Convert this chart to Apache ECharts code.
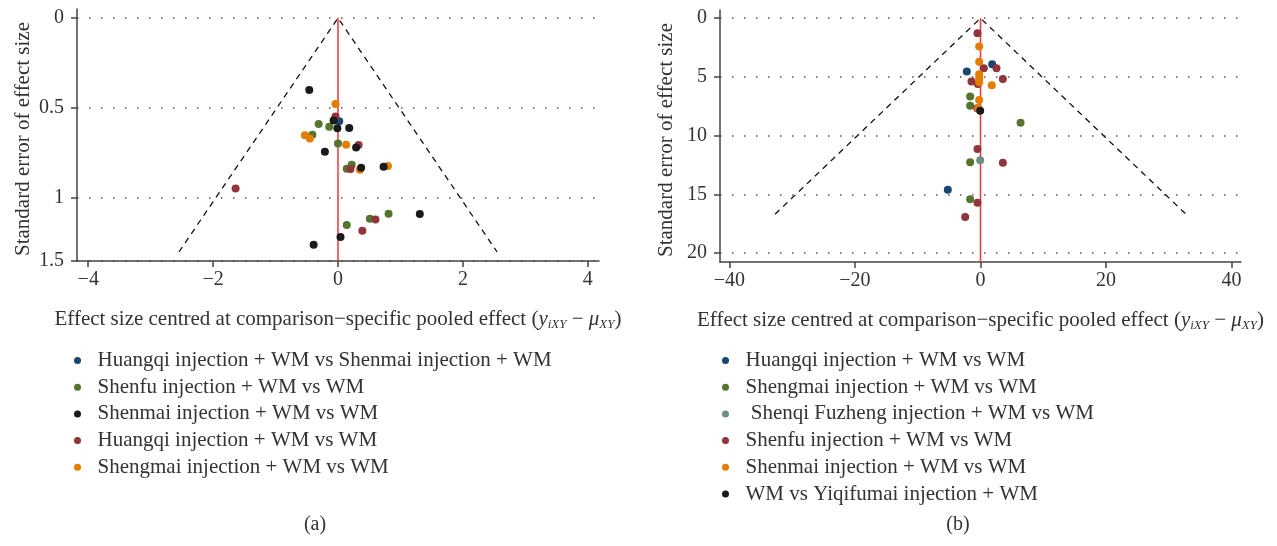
<!DOCTYPE html>
<html><head><meta charset="utf-8">
<script src="https://cdn.jsdelivr.net/npm/echarts@6/dist/echarts.min.js"></script>
<style>html,body{margin:0;padding:0;background:#fff}#c{width:1277px;height:546px}</style>
</head><body><div id="c"></div>
<script>
// ---------- tick labels ----------
const xTicksA = [-4, -2, 0, 2, 4];
const yTicksA = [0, 0.5, 1, 1.35];
const yTickLabelsA = ['0', '0.5', '1', '1.5'];
const xTicksB = [-40, -20, 0, 20, 40];
const yTicksB = [0, 5, 10, 15, 20];

// ---------- series names ----------
const namesA = [
  'Huangqi injection + WM vs Shenmai injection + WM',
  'Shenfu injection + WM vs WM',
  'Shenmai injection + WM vs WM',
  'Huangqi injection + WM vs WM',
  'Shengmai injection + WM vs WM'
];
const namesB = [
  'Huangqi injection + WM vs WM ',
  'Shengmai injection + WM vs WM ',
  ' Shenqi Fuzheng injection + WM vs WM',
  'Shenfu injection + WM vs WM ',
  'Shenmai injection + WM vs WM ',
  'WM vs Yiqifumai injection + WM'
];

// ---------- panel (a) values: [centred effect, standard error] ----------
const aHuangqiVsShenmai = [[0.02, 0.574]];
const aShenfu = [[-0.31, 0.589], [-0.14, 0.604], [-0.41, 0.648], [0.0, 0.697], [0.14, 0.837], [0.22, 0.815], [0.51, 1.115], [0.81, 1.087], [0.14, 1.15]];
const aShenmai = [[-0.46, 0.40], [-0.07, 0.57], [-0.01, 0.613], [0.18, 0.611], [0.29, 0.719], [-0.21, 0.743], [0.37, 0.832], [0.73, 0.826], [1.31, 1.089], [0.04, 1.217], [-0.39, 1.26]];
const aHuangqi = [[-0.04, 0.547], [0.33, 0.706], [-1.64, 0.947], [0.20, 0.839], [0.60, 1.119], [0.39, 1.182]];
const aShengmai = [[-0.04, 0.478], [-0.53, 0.652], [-0.45, 0.669], [0.13, 0.704], [0.35, 0.843], [0.80, 0.822]];
const seMaxA = 1.3;

// ---------- panel (b) values ----------
const bHuangqi = [[-2.18, 4.55], [1.86, 3.93], [-5.21, 14.61]];
const bShengmai = [[-1.65, 6.68], [-1.65, 7.45], [6.38, 8.90], [-1.65, 12.28], [-1.65, 15.43]];
const bShenqiFuzheng = [[-0.05, 12.11]];
const bShenfu = [[-0.48, 1.28], [0.53, 4.26], [2.55, 4.26], [3.56, 5.17], [-1.44, 5.40], [-0.43, 5.60], [-0.53, 7.67], [-0.48, 11.14], [3.56, 12.31], [-0.48, 15.72], [-2.44, 16.94]];
const bShenmai = [[-0.21, 2.42], [-0.21, 3.70], [-0.21, 4.77], [-0.21, 5.12], [-0.21, 5.46], [1.80, 5.71], [-0.21, 6.97], [-0.37, 7.67]];
const bYiqifumai = [[-0.05, 7.88]];
const seMaxB = 16.7;

// ---------- styling ----------
const FONT = '"Liberation Serif", "DejaVu Serif", serif';
const C = { navy: '#1a476f', green: '#55752f', black: '#1a1a1a', maroon: '#90353b', orange: '#e37e00', teal: '#6e8e84' };
const AXC = '#444';
const fmtNum = v => (v < 0 ? '\u2212' + Math.abs(v) : String(v));

function funnel(se) { return [[-1.96 * se, se], [0, 0], [1.96 * se, se]]; }

const xName = 'Effect size centred at comparison\u2212specific pooled effect ({it|y}{sub|iXY} \u2212 {it|\u03bc}{sub|XY})';
const xNameStyle = {
  fontFamily: FONT, fontSize: 21, color: '#333',
  rich: {
    it: { fontFamily: FONT, fontSize: 21, fontStyle: 'italic', color: '#333' },
    sub: { fontFamily: FONT, fontSize: 13, fontStyle: 'italic', color: '#333', padding: [11, 0, 0, 0] }
  }
};

function xAxisCfg(grid, min, max, ticks) {
  return {
    type: 'value', gridIndex: grid, min: min, max: max,
    axisLine: { show: true, onZero: false, lineStyle: { color: AXC, width: 1.5 } },
    axisTick: { show: true, length: 6, customValues: ticks, lineStyle: { color: AXC, width: 1.5 } },
    axisLabel: { customValues: ticks, formatter: fmtNum, fontFamily: FONT, fontSize: 20, color: '#333', margin: 9 },
    splitLine: { show: false },
    name: xName, nameLocation: 'middle', nameGap: 46, nameTextStyle: xNameStyle
  };
}
function yAxisCfg(grid, min, max, ticks, fmt) {
  return {
    type: 'value', gridIndex: grid, inverse: true, min: min, max: max,
    axisLine: { show: true, onZero: false, lineStyle: { color: AXC, width: 1.5 } },
    axisTick: { show: true, length: 6, customValues: ticks, lineStyle: { color: AXC, width: 1.5 } },
    axisLabel: { customValues: ticks, formatter: fmt, fontFamily: FONT, fontSize: 20, color: '#333', margin: 13 },
    splitLine: { show: true, lineStyle: { type: [1.5, 10.5], color: '#555', width: 1.5 } },
    name: 'Standard error of effect size', nameLocation: 'middle', nameGap: 43, nameRotate: 90,
    nameTextStyle: { fontFamily: FONT, fontSize: 21, color: '#333', padding: [0, 8, 0, 0] }
  };
}

function scatter(name, data, color, ax) {
  return { type: 'scatter', name: name, data: data, xAxisIndex: ax, yAxisIndex: ax,
    symbol: 'circle', symbolSize: 8, itemStyle: { color: color, opacity: 1 }, z: 3 };
}
function lineS(data, ax, style) {
  return { type: 'line', data: data, xAxisIndex: ax, yAxisIndex: ax, symbol: 'none', silent: true,
    lineStyle: style, z: 2, animation: false };
}

const legendBase = {
  orient: 'vertical', icon: 'circle', itemWidth: 30, itemHeight: 7, itemGap: 5.7,
  selectedMode: false, top: 345,
  textStyle: { fontFamily: FONT, fontSize: 21, color: '#333', lineHeight: 20, padding: [0, 0, 0, 0] }
};

const option = {
  animation: false,
  backgroundColor: '#fff',
  grid: [
    { left: 77, top: 9, width: 522, height: 252 },
    { left: 720, top: 10, width: 521, height: 252 }
  ],
  xAxis: [xAxisCfg(0, -4.18, 4.18, xTicksA), xAxisCfg(1, -41.5, 41.5, xTicksB)],
  yAxis: [
    yAxisCfg(0, -0.05, 1.35, yTicksA, v => yTickLabelsA[yTicksA.indexOf(v)] ?? String(v)),
    yAxisCfg(1, -0.7, 20.77, yTicksB, v => String(v))
  ],
  legend: [
    Object.assign({}, legendBase, { left: 69, data: namesA }),
    Object.assign({}, legendBase, { left: 717, data: namesB })
  ],
  graphic: [
    { type: 'text', x: 315, y: 525, style: { text: '(a)', font: '20px ' + FONT, fill: '#333', textAlign: 'center', textVerticalAlign: 'middle' } },
    { type: 'text', x: 958, y: 525, style: { text: '(b)', font: '20px ' + FONT, fill: '#333', textAlign: 'center', textVerticalAlign: 'middle' } }
  ],
  series: [
    lineS(funnel(seMaxA), 0, { type: [6, 5], color: '#111', width: 1.3 }),
    lineS([[0, 0], [0, 1.35]], 0, { color: '#f0363c', width: 1.5 }),
    scatter(namesA[0], aHuangqiVsShenmai, C.navy, 0),
    scatter(namesA[1], aShenfu, C.green, 0),
    scatter(namesA[3], aHuangqi, C.maroon, 0),
    scatter(namesA[4], aShengmai, C.orange, 0),
    scatter(namesA[2], aShenmai, C.black, 0),

    lineS(funnel(seMaxB), 1, { type: [6, 5], color: '#111', width: 1.3 }),
    lineS([[0, 0], [0, 20.77]], 1, { color: '#f0363c', width: 1.5 }),
    scatter(namesB[0], bHuangqi, C.navy, 1),
    scatter(namesB[1], bShengmai, C.green, 1),
    scatter(namesB[2], bShenqiFuzheng, C.teal, 1),
    scatter(namesB[3], bShenfu, C.maroon, 1),
    scatter(namesB[4], bShenmai, C.orange, 1),
    scatter(namesB[5], bYiqifumai, C.black, 1)
  ]
};
const chart = echarts.init(document.getElementById('c'), null, { renderer: 'canvas' });
chart.setOption(option);
</script>
</body></html>
